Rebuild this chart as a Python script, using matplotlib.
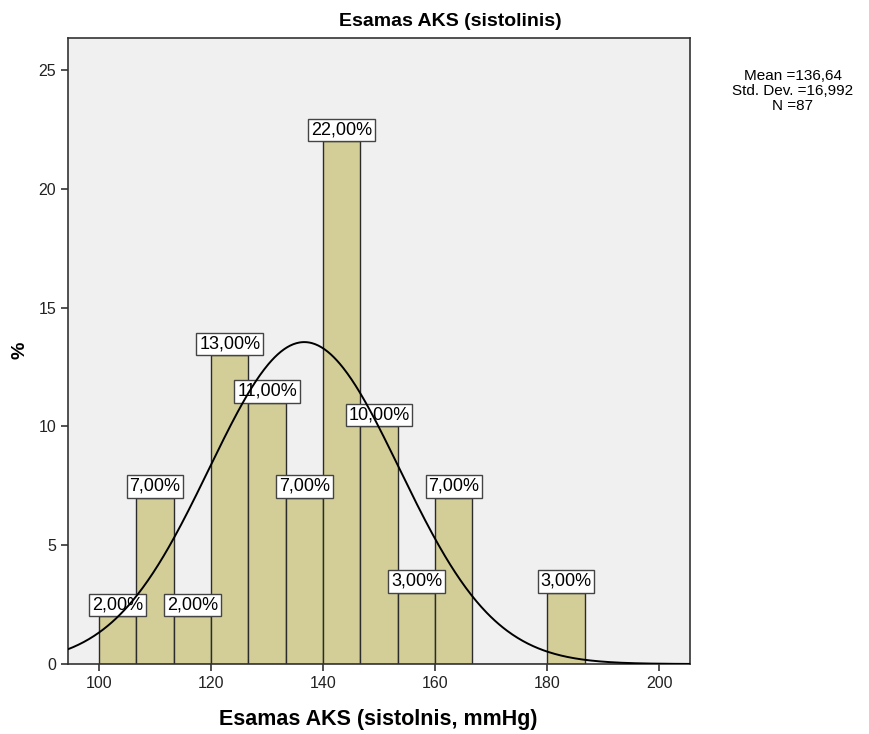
import numpy as np
import matplotlib
matplotlib.use("Agg")
import matplotlib.pyplot as plt

plt.rcParams['font.family'] = ['Liberation Sans', 'DejaVu Sans']

# Histogram of systolic blood pressure (percent per bin)
bin_start = 100.0
bin_width = 20.0 / 3.0
percents = [2, 7, 2, 13, 11, 7, 22, 10, 3, 7, 0, 0, 3]

mean_val = 136.64
std_val = 16.992
n_val = 87
curve_peak = 13.55  # height of the fitted normal curve at the mean

x_ticks = [100, 120, 140, 160, 180, 200]
y_ticks = [0, 5, 10, 15, 20, 25]


def comma(v, digits):
    return f"{v:.{digits}f}".replace('.', ',')


fig = plt.figure(figsize=(8.69, 7.34), dpi=100)
ax = fig.add_axes([68 / 869, 70 / 734, 622 / 869, 626 / 734])
ax.set_facecolor('#F0F0F0')

lefts = bin_start + bin_width * np.arange(len(percents))
ax.bar(lefts, percents, width=bin_width, align='edge', color='#D3CE98',
       edgecolor='#2b2b2b', linewidth=1.0, zorder=2)

for x0, p in zip(lefts, percents):
    if p <= 0:
        continue
    ax.annotate(comma(p, 2) + "%", xy=(x0 + bin_width / 2, p),
                xytext=(0, 2), textcoords='offset points',
                ha='center', va='bottom', fontsize=13, color='black', zorder=4,
                bbox=dict(boxstyle='square,pad=0.15', facecolor='white',
                          edgecolor='#444444', linewidth=1.0))

xs = np.linspace(94.46, 205.5, 600)
ys = curve_peak * np.exp(-0.5 * ((xs - mean_val) / std_val) ** 2)
ax.plot(xs, ys, color='black', linewidth=1.4, zorder=5)

ax.set_xlim(94.46, 205.5)
ax.set_ylim(0, 26.35)
ax.set_xticks(x_ticks)
ax.set_yticks(y_ticks)
ax.tick_params(axis='both', direction='out', length=5, width=1.2,
               color='#333333', labelsize=11.5, labelcolor='#222222')
for s in ax.spines.values():
    s.set_color('#333333')
    s.set_linewidth(1.2)

fig.text(450 / 869, 1 - 22 / 734, "Esamas AKS (sistolinis)", fontsize=14,
         fontweight='bold', ha='center', va='center')
fig.text(378 / 869, 1 - 720 / 734, "Esamas AKS (sistolnis, mmHg)",
         fontsize=15.5, fontweight='bold', ha='center', va='center')
fig.text(20 / 869, 1 - 350 / 734, "%", fontsize=14, fontweight='bold',
         rotation=90, ha='center', va='center')

fig.text(793 / 869, 1 - 91 / 734,
         "Mean =" + comma(mean_val, 2) + "\n"
         + "Std. Dev. =" + comma(std_val, 3) + "\n"
         + f"N ={n_val}",
         ha='center', va='center', fontsize=11, linespacing=1.05)

fig.savefig("out.png", dpi=100)
